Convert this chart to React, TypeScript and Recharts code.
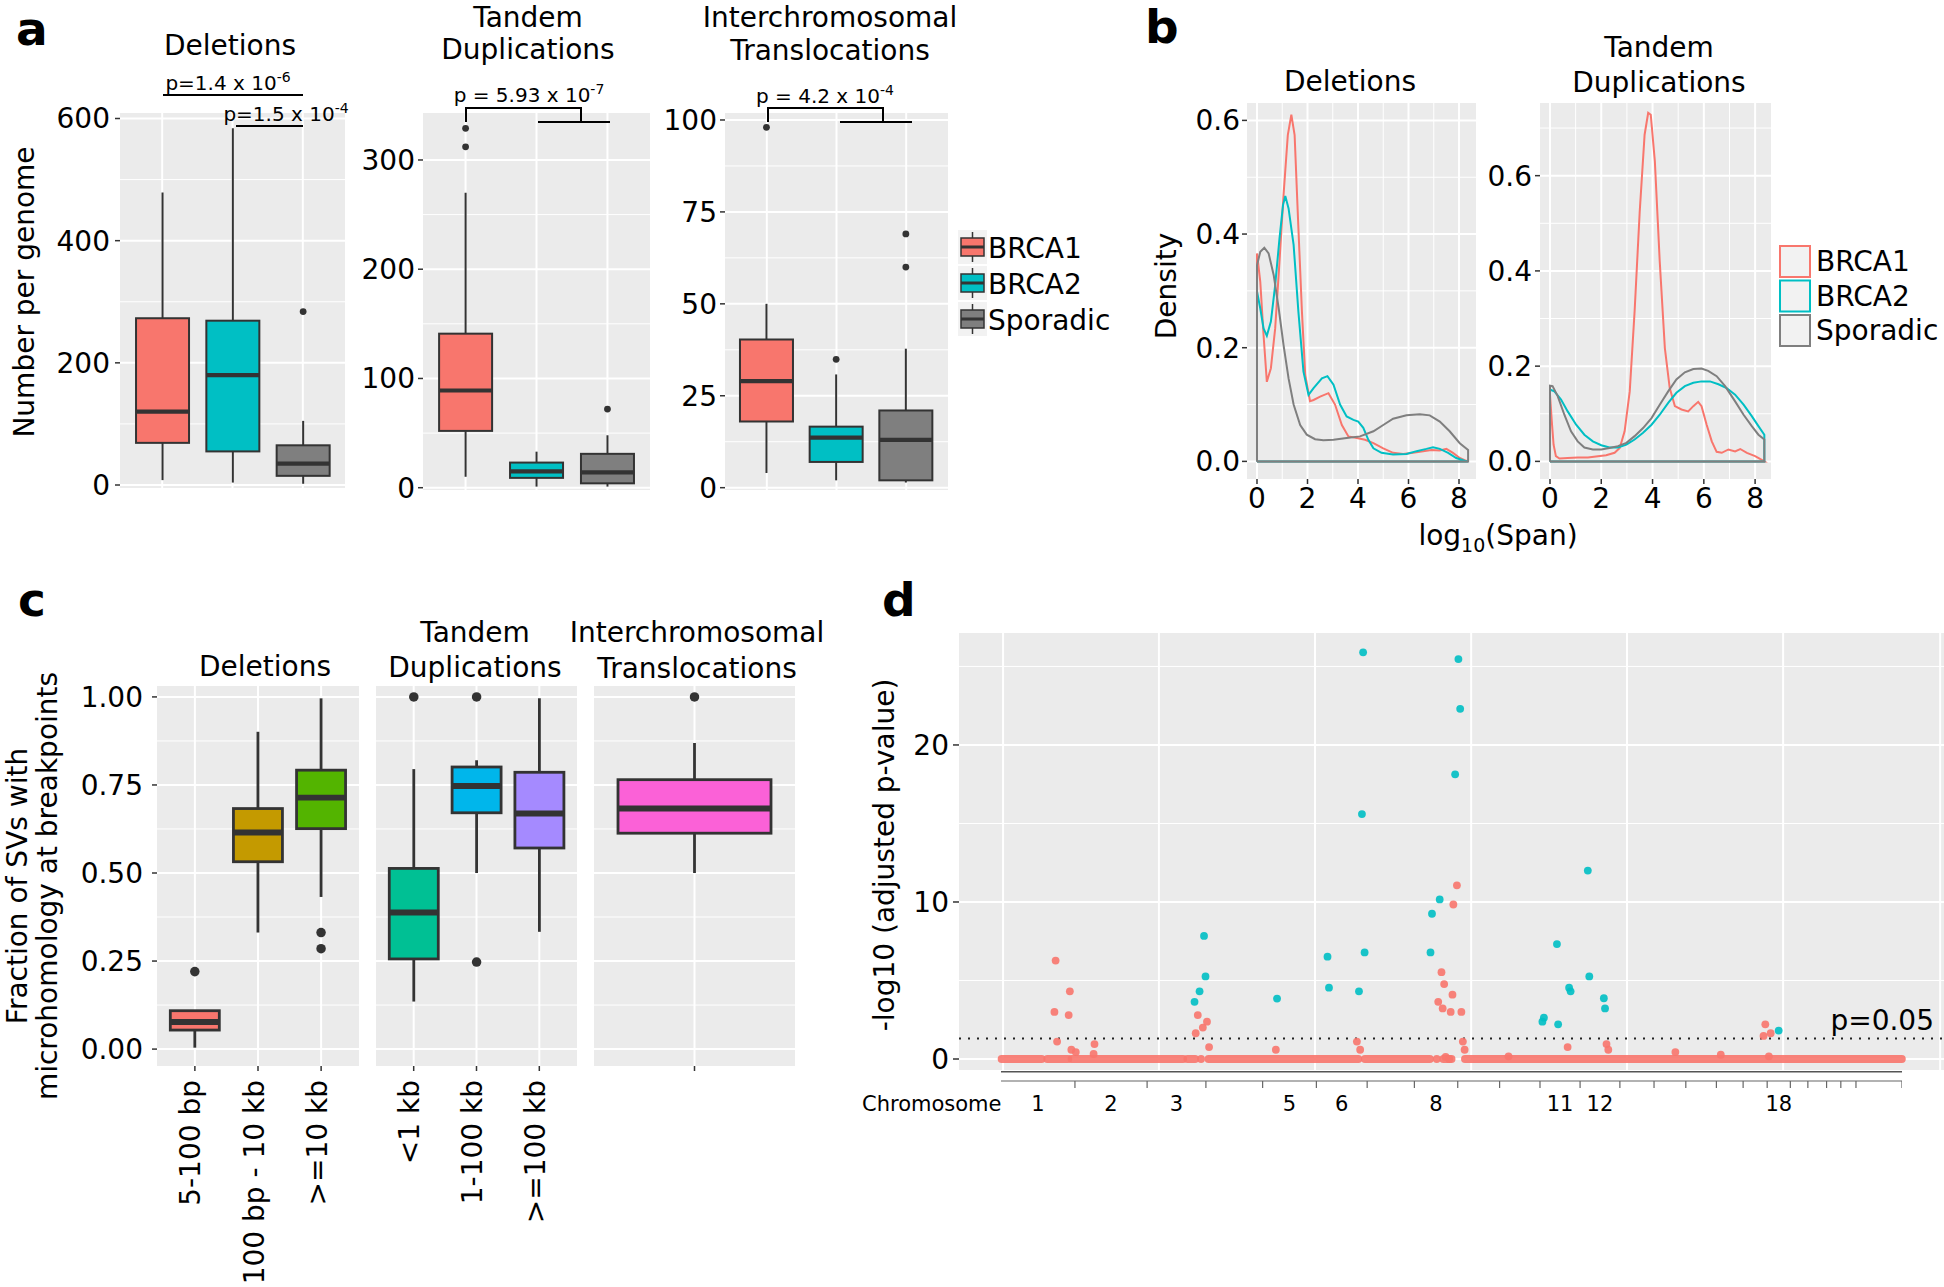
import React from 'react';
import { Bar, CartesianGrid, ComposedChart, Line, LineChart, ReferenceLine, Scatter, XAxis, YAxis } from 'recharts';

// Four-panel SV figure: a) counts per genome, b) span densities,
// c) microhomology fractions, d) per-gene enrichment along the genome.
const FONT = '"DejaVu Sans", Verdana, sans-serif';
const PANEL = '#EBEBEB';
const EDGE = '#333333';

// ---- a: SVs per genome (lower whisker, Q1, median, Q3, upper whisker)
const GROUPS = ['BRCA1', 'BRCA2', 'Sporadic'];
const GROUP_COLORS = ['#F8766D', '#00BFC4', '#7F7F7F'];
const DEL_STATS = [[8, 69, 120, 273, 479], [4, 55, 180, 269, 584], [2, 15, 35, 65, 105]];
const DEL_OUT = [[], [], [284]];
const TD_STATS = [[10, 52, 89, 141, 270], [1, 9, 15, 23, 33], [1, 4, 14, 31, 48]];
const TD_OUT = [[312, 329], [], [72]];
const IT_STATS = [[4, 18, 29, 40.3, 50], [2, 7, 13.6, 16.6, 30.8], [1.4, 2, 13, 21, 37.8]];
const IT_OUT = [[98], [34.9], [60, 69]];

// ---- b: density of log10(span), [x, density] outline incl. baseline
const SPAN_TICKS = [0, 2, 4, 6, 8];
const SPAN_MINOR = [1, 3, 5, 7];
const DENS_DEL_BRCA1 = [[0, 0], [0, 0.366], [0.13, 0.316], [0.26, 0.222], [0.39, 0.14], [0.55, 0.164], [0.72, 0.234], [0.89, 0.351], [1.05, 0.468], [1.22, 0.574], [1.36, 0.61], [1.49, 0.574], [1.64, 0.41], [1.78, 0.263], [1.91, 0.152], [2.1, 0.106], [2.24, 0.108], [2.5, 0.114], [2.83, 0.12], [3.09, 0.1], [3.36, 0.064], [3.62, 0.044], [3.95, 0.041], [4.28, 0.038], [4.61, 0.032], [5.0, 0.023], [5.39, 0.015], [5.79, 0.013], [6.18, 0.015], [6.58, 0.018], [6.91, 0.02], [7.24, 0.019], [7.5, 0.022], [7.76, 0.015], [8.03, 0.006], [8.29, 0.001], [8.36, 0], [0, 0]];
const DENS_DEL_BRCA2 = [[0, 0], [0, 0.299], [0.13, 0.269], [0.26, 0.234], [0.39, 0.221], [0.55, 0.246], [0.72, 0.31], [0.89, 0.392], [1.03, 0.451], [1.12, 0.467], [1.25, 0.445], [1.45, 0.381], [1.64, 0.263], [1.84, 0.158], [2.04, 0.117], [2.24, 0.129], [2.57, 0.146], [2.79, 0.15], [3.03, 0.135], [3.29, 0.1], [3.55, 0.079], [3.82, 0.073], [4.01, 0.07], [4.21, 0.059], [4.41, 0.038], [4.61, 0.023], [4.93, 0.015], [5.39, 0.012], [5.92, 0.013], [6.32, 0.018], [6.71, 0.022], [6.97, 0.025], [7.24, 0.022], [7.57, 0.015], [7.89, 0.006], [8.22, 0.001], [8.36, 0], [0, 0]];
const DENS_DEL_SPORADIC = [[0, 0], [0, 0.345], [0.13, 0.369], [0.29, 0.376], [0.46, 0.366], [0.66, 0.328], [0.86, 0.269], [1.05, 0.205], [1.25, 0.146], [1.45, 0.1], [1.71, 0.064], [1.97, 0.047], [2.3, 0.039], [2.63, 0.037], [3.03, 0.038], [3.55, 0.041], [4.08, 0.044], [4.61, 0.053], [5.0, 0.064], [5.39, 0.075], [5.92, 0.081], [6.45, 0.083], [6.84, 0.081], [7.24, 0.07], [7.63, 0.053], [8.03, 0.032], [8.36, 0.02], [8.36, 0], [0, 0]];
const DENS_TD_BRCA1 = [[0, 0], [0, 0.14], [0.07, 0.084], [0.14, 0.035], [0.23, 0.011], [0.37, 0.006], [0.69, 0.007], [1.08, 0.008], [1.48, 0.008], [1.87, 0.011], [2.19, 0.013], [2.52, 0.018], [2.72, 0.028], [2.91, 0.063], [3.11, 0.147], [3.3, 0.315], [3.5, 0.525], [3.69, 0.686], [3.83, 0.732], [3.93, 0.728], [4.09, 0.63], [4.28, 0.42], [4.48, 0.238], [4.67, 0.154], [4.87, 0.116], [5.13, 0.109], [5.39, 0.105], [5.59, 0.116], [5.78, 0.125], [5.91, 0.116], [6.11, 0.077], [6.31, 0.042], [6.5, 0.02], [6.7, 0.018], [6.96, 0.025], [7.22, 0.021], [7.42, 0.026], [7.68, 0.018], [8.0, 0.011], [8.33, 0.001], [8.36, 0], [0, 0]];
const DENS_TD_BRCA2 = [[0, 0], [0, 0.151], [0.17, 0.147], [0.43, 0.13], [0.69, 0.105], [1.02, 0.077], [1.34, 0.056], [1.67, 0.042], [2.0, 0.034], [2.32, 0.029], [2.65, 0.029], [2.98, 0.035], [3.3, 0.046], [3.63, 0.06], [3.96, 0.077], [4.28, 0.098], [4.61, 0.123], [4.93, 0.144], [5.26, 0.158], [5.59, 0.165], [5.91, 0.168], [6.24, 0.168], [6.57, 0.162], [6.89, 0.154], [7.22, 0.14], [7.55, 0.119], [7.87, 0.095], [8.13, 0.074], [8.36, 0.056], [8.36, 0], [0, 0]];
const DENS_TD_SPORADIC = [[0, 0], [0, 0.159], [0.1, 0.158], [0.3, 0.137], [0.56, 0.098], [0.82, 0.063], [1.08, 0.042], [1.34, 0.029], [1.67, 0.025], [2.0, 0.025], [2.32, 0.028], [2.65, 0.032], [2.98, 0.039], [3.3, 0.053], [3.63, 0.07], [3.96, 0.091], [4.28, 0.119], [4.61, 0.147], [4.93, 0.172], [5.26, 0.187], [5.59, 0.194], [5.91, 0.195], [6.17, 0.19], [6.5, 0.179], [6.83, 0.158], [7.22, 0.126], [7.55, 0.098], [7.87, 0.074], [8.13, 0.056], [8.36, 0.046], [8.36, 0], [0, 0]];

// ---- c: fraction of SVs with microhomology, by size class
const SIZE_DEL = ['5-100 bp', '100 bp - 10 kb', '>=10 kb'];
const SIZE_TD = ['<1 kb', '1-100 kb', '>=100 kb'];
const SIZE_IT = [' '];
const SIZE_COLORS = ['#F8766D', '#C49A00', '#53B400', '#00C094', '#00B6EB', '#A58AFF', '#FB61D7'];
const MH_DEL = [[0.004, 0.054, 0.077, 0.109, 0.109], [0.331, 0.532, 0.615, 0.683, 0.901], [0.432, 0.626, 0.714, 0.792, 0.996]];
const MH_DEL_OUT = [[0.22], [], [0.331, 0.285]];
const MH_TD = [[0.135, 0.256, 0.388, 0.513, 0.795], [0.5, 0.671, 0.747, 0.801, 0.82], [0.333, 0.571, 0.669, 0.786, 0.996]];
const MH_TD_OUT = [[1.0], [1.0, 0.247], []];
const MH_IT = [[0.5, 0.613, 0.683, 0.765, 0.869]];
const MH_IT_OUT = [[1.0]];

// ---- d: -log10(adj p) along the genome (Mb from start of chr1)
const CHR_NAMES = ['1', '2', '3', '4', '5', '6', '7', '8', '9', '10', '11', '12', '13', '14', '15', '16', '17', '18', '19', '20', '21', '22', 'X'];
const CHR_MB = [249, 243, 198, 191, 181, 171, 159, 146, 141, 136, 135, 134, 115, 107, 103, 90, 81, 78, 59, 63, 48, 51, 155];
const CHR_SHOWN = ['1', '2', '3', '5', '6', '8', '11', '12', '18'];
const GENOME_GRID = [7, 532, 1058, 1584, 2109, 2635, 3164];
const P_CUTOFF = 1.301;
const HITS_BRCA1 = [[184, 6.27], [232, 4.31], [180, 3.0], [228, 2.8], [189, 1.11], [237, 0.59], [252, 0.44], [315, 0.95], [312, 0.32], [674, 0], [656, 1.64], [663, 2.8], [680, 2.0], [694, 2.38], [701, 0.76], [926, 0.59], [1199, 1.11], [1210, 0.59], [1536, 11.06], [1524, 9.84], [1484, 5.53], [1493, 4.77], [1521, 4.1], [1473, 3.64], [1488, 3.22], [1515, 3.0], [1551, 3.0], [1556, 1.11], [1562, 0.59], [1498, 0.13], [1510, 0], [1468, 0], [1909, 0.76], [2040, 0.95], [2046, 0.59], [2272, 0.44], [2425, 0.27], [2575, 2.21], [2569, 1.47], [2593, 1.64], [2587, 0.17], [1710, 0.17]];
const HITS_BRCA2 = [[684, 7.84], [689, 5.26], [669, 4.31], [652, 3.64], [930, 3.85], [1100, 6.52], [1105, 4.54], [1220, 25.9], [1216, 15.6], [1225, 6.79], [1206, 4.31], [1541, 25.47], [1547, 22.3], [1530, 18.13], [1478, 10.16], [1452, 9.25], [1447, 6.79], [1977, 12.0], [1873, 7.32], [1982, 5.26], [1914, 4.54], [1919, 4.31], [2031, 3.87], [2035, 3.22], [1829, 2.63], [1824, 2.38], [1877, 2.21], [2620, 1.81]];
// runs of overlapping non-significant genes sitting on 0
const BASELINE_RUNS = [[2, 137], [156, 227], [238, 614], [628, 654], [699, 1204], [1226, 1445], [1490, 1518], [1563, 3035]];

const CHR_END = CHR_MB.reduce<number[]>((acc, l) => [...acc, (acc.length ? acc[acc.length - 1] : 0) + l], []);
const GENOME = CHR_END[CHR_END.length - 1];
const CHR_MID = new Map<number, string>(
  CHR_SHOWN.map((n) => {
    const i = CHR_NAMES.indexOf(n);
    return [CHR_END[i] - CHR_MB[i] / 2, n];
  }),
);
const STRIP_TICKS = [...CHR_END, ...CHR_MID.keys()];

// recharts 3 may hand out a plain d3 scale or its own wrapper with .map()
const at = (axis: any, v: any) => {
  const s = axis?.scale;
  if (!s) return -100;
  const bw = typeof s.bandwidth === 'function' ? Number(s.bandwidth()) || 0 : 0;
  let r: any;
  if (typeof s === 'function') r = s(v);
  else if (typeof s.map === 'function') r = s.map(v);
  else if (typeof s.apply === 'function') r = s.apply(v);
  return Number.isFinite(r) ? r + bw / 2 : -100;
};

function grids(xs: any[], ys: number[], ysMinor: number[], xsMinor: number[] = []) {
  return [
    <CartesianGrid
      key="major"
      fill={PANEL}
      stroke="#fff"
      strokeWidth={2}
      verticalCoordinatesGenerator={({ xAxis }: any) => xs.map((v) => at(xAxis, v))}
      horizontalCoordinatesGenerator={({ yAxis }: any) => ys.map((v) => at(yAxis, v))}
    />,
    <CartesianGrid
      key="minor"
      stroke="#fff"
      strokeWidth={1}
      vertical={xsMinor.length > 0}
      verticalCoordinatesGenerator={({ xAxis }: any) => xsMinor.map((v) => at(xAxis, v))}
      horizontalCoordinatesGenerator={({ yAxis }: any) => ysMinor.map((v) => at(yAxis, v))}
    />,
  ];
}

const tickText = { fill: '#000', fontSize: 28, fontFamily: FONT };
const tickStroke = { stroke: EDGE, strokeWidth: 1.5 };

const BoxShape = (p: any) => {
  const { x, y, width, height, payload, lw } = p;
  const [lo, q1, med, q3, hi] = payload.s;
  const py = (v: number) => y + (height * (q3 - v)) / (q3 - q1);
  const cx = x + width / 2;
  return (
    <g>
      <line x1={cx} x2={cx} y1={py(hi)} y2={py(q3)} stroke={EDGE} strokeWidth={lw} />
      <line x1={cx} x2={cx} y1={py(q1)} y2={py(lo)} stroke={EDGE} strokeWidth={lw} />
      <rect x={x} y={Math.min(y, y + height)} width={width} height={Math.abs(height)} fill={payload.fill} stroke={EDGE} strokeWidth={lw} />
      <line x1={x} x2={x + width} y1={py(med)} y2={py(med)} stroke={EDGE} strokeWidth={lw * 2.1} />
      {payload.out.map((v: number, i: number) => (
        <circle key={i} cx={cx} cy={py(v)} r={lw * 1.7} fill={EDGE} />
      ))}
    </g>
  );
};

const RotTick = (p: any) => (
  <text transform={`translate(${p.x - 4},${p.y}) rotate(-90)`} textAnchor="end" dominantBaseline="central" {...tickText}>
    {p.payload.value}
  </text>
);

// room above/below the plot so end tick labels are not clipped by the svg
const PAD_V = 20;

function BoxFacet(props: any) {
  const { left, top, plotW, plotH, yw, cats, stats, outliers, colors, domain, yTicks, yMinor, fmt, boxW, lw, xh = 0, ts = 5, tm = 4 } = props;
  const n = cats.length;
  const pad = n > 1 ? (plotW * (0.6 / (n + 0.2) - 1 / (2 * n))) / (1 - 1 / n) : 0;
  const bottom = xh === 0 ? PAD_V : 0;
  const data = cats.map((c: string, i: number) => ({ name: c, box: [stats[i][1], stats[i][3]], s: stats[i], out: outliers[i], fill: colors[i] }));
  return (
    <div style={{ position: 'absolute', left: left - yw, top: top - PAD_V }}>
      <ComposedChart width={plotW + yw} height={plotH + xh + PAD_V + bottom} data={data} margin={{ top: PAD_V, right: 0, bottom, left: 0 }}>
        {grids(cats, yTicks, yMinor)}
        <XAxis
          dataKey="name"
          type="category"
          padding={{ left: pad, right: pad }}
          hide={xh === 0}
          height={xh}
          interval={0}
          axisLine={false}
          tickLine={tickStroke}
          tickSize={5}
          tickMargin={9}
          tick={<RotTick />}
        />
        <YAxis
          type="number"
          domain={domain}
          ticks={yTicks}
          allowDataOverflow
          interval={0}
          hide={yw === 0}
          width={yw}
          axisLine={false}
          tickLine={tickStroke}
          tickSize={ts}
          tickMargin={tm}
          tick={tickText}
          tickFormatter={fmt}
        />
        <Bar dataKey="box" barSize={boxW} isAnimationActive={false} shape={(p: any) => <BoxShape {...p} lw={lw} />} />
      </ComposedChart>
    </div>
  );
}

const DENS_COLORS = ['#F8766D', '#00BFC4', '#7F7F7F'];

function DensityFacet(props: any) {
  const { left, top, plotW, plotH, yw, series, xDomain, yDomain, yTicks, yMinor, tm } = props;
  return (
    <div style={{ position: 'absolute', left: left - yw, top: top - PAD_V }}>
      <LineChart width={plotW + yw} height={plotH + 44 + PAD_V} margin={{ top: PAD_V, right: 0, bottom: 0, left: 0 }}>
        {grids(SPAN_TICKS, yTicks, yMinor, SPAN_MINOR)}
        <XAxis
          type="number"
          dataKey="x"
          domain={xDomain}
          ticks={SPAN_TICKS}
          allowDataOverflow
          interval={0}
          height={44}
          axisLine={false}
          tickLine={tickStroke}
          tickSize={5}
          tickMargin={4}
          tick={tickText}
        />
        <YAxis
          type="number"
          domain={yDomain}
          ticks={yTicks}
          allowDataOverflow
          interval={0}
          width={yw}
          axisLine={false}
          tickLine={tickStroke}
          tickSize={5}
          tickMargin={tm}
          tick={tickText}
          tickFormatter={(v: number) => v.toFixed(1)}
        />
        {series.map((s: number[][], i: number) => (
          <Line
            key={i}
            data={s.map(([x, y]) => ({ x, y }))}
            dataKey="y"
            type="linear"
            stroke={DENS_COLORS[i]}
            strokeWidth={2}
            dot={false}
            isAnimationActive={false}
          />
        ))}
      </LineChart>
    </div>
  );
}

const Dot = (fill: string) => (p: any) => <circle cx={p.cx} cy={p.cy} r={3.9} fill={fill} fillOpacity={0.9} />;

const ChrTick = (p: any) => {
  const name = CHR_MID.get(p.payload.value);
  if (name)
    return (
      <text x={p.x} y={p.y + 30} textAnchor="middle" fontSize={21} fontFamily={FONT} fill="#000">
        {name}
      </text>
    );
  return <line x1={p.x} x2={p.x} y1={p.y} y2={p.y + 7} stroke="#666" strokeWidth={1.2} />;
};

function Manhattan() {
  return (
    <>
      <div style={{ position: 'absolute', left: 889, top: 633 - PAD_V }}>
        <ComposedChart width={1055} height={437 + 2 * PAD_V} margin={{ top: PAD_V, right: 0, bottom: PAD_V, left: 0 }}>
          {grids(GENOME_GRID, [0, 10, 20], [5, 15, 25])}
          <XAxis type="number" dataKey="x" domain={[-141.5, 3177]} allowDataOverflow hide />
          <YAxis
            type="number"
            dataKey="y"
            domain={[-0.7, 27.13]}
            ticks={[0, 10, 20]}
            allowDataOverflow
            interval={0}
            width={70}
            axisLine={false}
            tickLine={tickStroke}
            tickSize={6}
            tickMargin={4}
            tick={tickText}
          />
          {BASELINE_RUNS.map(([a, b], i) => (
            <Line
              key={i}
              data={[{ x: a, y: 0 }, { x: b, y: 0 }]}
              dataKey="y"
              type="linear"
              stroke="#F8766D"
              strokeOpacity={0.9}
              strokeWidth={7.8}
              strokeLinecap="round"
              dot={false}
              isAnimationActive={false}
            />
          ))}
          <ReferenceLine y={P_CUTOFF} stroke="#222" strokeWidth={2} strokeDasharray="2 7" />
          <Scatter data={HITS_BRCA1.map(([x, y]) => ({ x, y }))} isAnimationActive={false} shape={Dot('#F8766D')} />
          <Scatter data={HITS_BRCA2.map(([x, y]) => ({ x, y }))} isAnimationActive={false} shape={Dot('#00BFC4')} />
        </ComposedChart>
      </div>
      <div style={{ position: 'absolute', left: 1001, top: 1071 }}>
        <ComposedChart width={901} height={50} margin={{ top: 0, right: 0, bottom: 0, left: 0 }}>
          <XAxis
            type="number"
            dataKey="x"
            domain={[0, GENOME]}
            ticks={STRIP_TICKS}
            interval={0}
            height={40}
            tickSize={0}
            tickMargin={0}
            tickLine={false}
            axisLine={{ stroke: '#666', strokeWidth: 1.2 }}
            tick={<ChrTick />}
          />
          <YAxis hide type="number" domain={[0, 1]} />
          <Line data={[{ x: 0, y: 1 }, { x: GENOME, y: 1 }]} dataKey="y" type="linear" stroke="#555" strokeWidth={3} dot={false} isAnimationActive={false} />
        </ComposedChart>
      </div>
    </>
  );
}

function Notes() {
  const t = { fontFamily: FONT, fill: '#000' };
  const rot = (x: number, y: number) => `translate(${x},${y}) rotate(-90)`;
  const bk = { stroke: '#000', strokeWidth: 2, fill: 'none' };
  return (
    <svg width={1944} height={1287} style={{ position: 'absolute', left: 0, top: 0, pointerEvents: 'none' }}>
      <g {...t} fontWeight="bold" fontSize={47}>
        <text x={16} y={45}>a</text>
        <text x={1145} y={43}>b</text>
        <text x={18} y={616}>c</text>
        <text x={882} y={616}>d</text>
      </g>
      <g {...t} fontSize={28} textAnchor="middle">
        <text x={230} y={55}>Deletions</text>
        <text x={528} y={27}>Tandem</text>
        <text x={528} y={59}>Duplications</text>
        <text x={830} y={27}>Interchromosomal</text>
        <text x={830} y={60}>Translocations</text>
        <text transform={rot(24, 292)} dominantBaseline="central">Number per genome</text>

        <text x={1350} y={91}>Deletions</text>
        <text x={1659} y={57}>Tandem</text>
        <text x={1659} y={92}>Duplications</text>
        <text transform={rot(1166, 286)} dominantBaseline="central">Density</text>
        <text x={1498} y={545}>
          log<tspan fontSize={19} dy={7}>10</tspan>
          <tspan dy={-7}>(Span)</tspan>
        </text>

        <text x={265} y={676}>Deletions</text>
        <text x={475} y={642}>Tandem</text>
        <text x={475} y={677}>Duplications</text>
        <text x={697} y={642}>Interchromosomal</text>
        <text x={697} y={678}>Translocations</text>
        <text transform={rot(17, 886)} dominantBaseline="central">Fraction of SVs with</text>
        <text transform={rot(47, 886)} dominantBaseline="central">microhomology at breakpoints</text>

        <text transform={rot(884, 855)} dominantBaseline="central">-log10 (adjusted p-value)</text>
        <text x={1934} y={1030} textAnchor="end">p=0.05</text>
      </g>
      <text {...t} x={862} y={1111} fontSize={21}>Chromosome</text>

      {/* significance brackets, panel a */}
      <g {...t} fontSize={20} textAnchor="middle">
        <text x={228} y={90}>
          p=1.4 x 10<tspan fontSize={14} dy={-8}>-6</tspan>
        </text>
        <text x={286} y={121}>
          p=1.5 x 10<tspan fontSize={14} dy={-8}>-4</tspan>
        </text>
        <text x={529} y={102}>
          p = 5.93 x 10<tspan fontSize={14} dy={-8}>-7</tspan>
        </text>
        <text x={825} y={103}>
          p = 4.2 x 10<tspan fontSize={14} dy={-8}>-4</tspan>
        </text>
      </g>
      <line x1={163} x2={303} y1={95} y2={95} {...bk} />
      <line x1={236} x2={303} y1={126} y2={126} {...bk} />
      <polyline points="466,122 466,108 581,108 581,122" {...bk} />
      <line x1={538} x2={610} y1={122} y2={122} {...bk} />
      <polyline points="768,122 768,108 883,108 883,122" {...bk} />
      <line x1={840} x2={912} y1={122} y2={122} {...bk} />

      {/* legend, panel a */}
      {GROUPS.map((g, i) => {
        const y0 = 230 + i * 36;
        return (
          <g key={g}>
            <rect x={958} y={y0} width={29} height={34} fill="#F2F2F2" />
            <line x1={972.5} x2={972.5} y1={y0 + 2} y2={y0 + 32} stroke={EDGE} strokeWidth={1.5} />
            <rect x={961} y={y0 + 8} width={23} height={18} fill={GROUP_COLORS[i]} stroke={EDGE} strokeWidth={1.5} />
            <line x1={961} x2={984} y1={y0 + 17} y2={y0 + 17} stroke={EDGE} strokeWidth={3} />
            <text {...t} x={988} y={y0 + 28} fontSize={28}>{g}</text>
          </g>
        );
      })}
      {/* legend, panel b */}
      {GROUPS.map((g, i) => {
        const y0 = 246 + i * 34.5;
        return (
          <g key={g}>
            <rect x={1780} y={y0} width={30} height={31} fill="#F2F2F2" stroke={DENS_COLORS[i]} strokeWidth={2} />
            <text {...t} x={1816} y={y0 + 25} fontSize={28}>{g}</text>
          </g>
        );
      })}
    </svg>
  );
}

export default function App() {
  const fmtInt = (v: number) => String(v);
  const fmt2 = (v: number) => v.toFixed(2);
  const mhTicks = [0, 0.25, 0.5, 0.75, 1];
  const mhMinor = [0.125, 0.375, 0.625, 0.875];
  const mhDomain = [-0.048, 1.031];
  return (
    <div style={{ position: 'absolute', left: 0, top: 0, width: 1944, height: 1287, background: '#fff', overflow: 'hidden' }}>
      {/* a */}
      <BoxFacet left={120} top={113} plotW={225} plotH={375} yw={100} cats={GROUPS} stats={DEL_STATS} outliers={DEL_OUT} colors={GROUP_COLORS}
        domain={[-4.9, 609]} yTicks={[0, 200, 400, 600]} yMinor={[100, 300, 500]} fmt={fmtInt} boxW={53} lw={2} tm={5} />
      <BoxFacet left={423} top={113} plotW={227} plotH={377} yw={70} cats={GROUPS} stats={TD_STATS} outliers={TD_OUT} colors={GROUP_COLORS}
        domain={[-2.1, 343]} yTicks={[0, 100, 200, 300]} yMinor={[50, 150, 250]} fmt={fmtInt} boxW={53} lw={2} tm={3} />
      <BoxFacet left={725} top={113} plotW={223} plotH={377} yw={70} cats={GROUPS} stats={IT_STATS} outliers={IT_OUT} colors={GROUP_COLORS}
        domain={[-0.63, 101.9]} yTicks={[0, 25, 50, 75, 100]} yMinor={[12.5, 37.5, 62.5, 87.5]} fmt={fmtInt} boxW={53} lw={2} tm={3} />

      {/* b */}
      <DensityFacet left={1247} top={103} plotW={229} plotH={376} yw={70} tm={2} series={[DENS_DEL_BRCA1, DENS_DEL_BRCA2, DENS_DEL_SPORADIC]}
        xDomain={[-0.396, 8.673]} yDomain={[-0.031, 0.6306]} yTicks={[0, 0.2, 0.4, 0.6]} yMinor={[0.1, 0.3, 0.5]} />
      <DensityFacet left={1540} top={103} plotW={231} plotH={376} yw={60} tm={3} series={[DENS_TD_BRCA1, DENS_TD_BRCA2, DENS_TD_SPORADIC]}
        xDomain={[-0.39, 8.62]} yDomain={[-0.037, 0.7526]} yTicks={[0, 0.2, 0.4, 0.6]} yMinor={[0.1, 0.3, 0.5, 0.7]} />

      {/* c */}
      <BoxFacet left={157} top={686} plotW={202} plotH={380} yw={90} xh={220} cats={SIZE_DEL} stats={MH_DEL} outliers={MH_DEL_OUT} colors={SIZE_COLORS.slice(0, 3)}
        domain={mhDomain} yTicks={mhTicks} yMinor={mhMinor} fmt={fmt2} boxW={49} lw={2.8} tm={9} />
      <BoxFacet left={376} top={686} plotW={201} plotH={380} yw={0} xh={220} cats={SIZE_TD} stats={MH_TD} outliers={MH_TD_OUT} colors={SIZE_COLORS.slice(3, 6)}
        domain={mhDomain} yTicks={mhTicks} yMinor={mhMinor} fmt={fmt2} boxW={49} lw={2.8} />
      <BoxFacet left={594} top={686} plotW={201} plotH={380} yw={0} xh={220} cats={SIZE_IT} stats={MH_IT} outliers={MH_IT_OUT} colors={SIZE_COLORS.slice(6)}
        domain={mhDomain} yTicks={mhTicks} yMinor={mhMinor} fmt={fmt2} boxW={153} lw={2.8} />

      {/* d */}
      <Manhattan />
      <Notes />
    </div>
  );
}
